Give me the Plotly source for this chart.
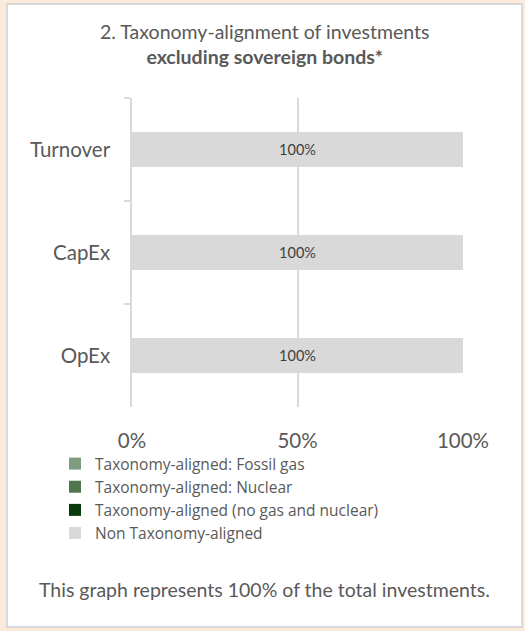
import plotly.graph_objects as go

categories = ["Turnover", "CapEx", "OpEx"]
series_names = [
    "Taxonomy-aligned: Fossil gas",
    "Taxonomy-aligned: Nuclear",
    "Taxonomy-aligned (no gas and nuclear)",
    "Non Taxonomy-aligned",
]
fossil_gas = [0, 0, 0]
nuclear = [0, 0, 0]
aligned_other = [0, 0, 0]
non_aligned = [100, 100, 100]
series_values = [fossil_gas, nuclear, aligned_other, non_aligned]
colors = ["#7F9C7E", "#4E774D", "#0A3A0A", "#D9D9D9"]

FONT = "Lato"
TXT = "#595959"

W, H = 525, 631
L, R, T, B = 132, 62, 98, 224
pw, ph = W - L - R, H - T - B

def px_x(p):
    return (p - L) / pw

def px_y(p):
    return (H - B - p) / ph

fig = go.Figure()
for name, vals, col in zip(series_names, series_values, colors):
    fig.add_trace(go.Bar(
        y=categories,
        x=[v / 100 for v in vals],
        orientation="h",
        name=name,
        marker=dict(color=col, line=dict(width=0)),
        text=[f"{v}%" if v > 0 else "" for v in vals],
        textposition="inside",
        insidetextanchor="middle",
        textfont=dict(family=FONT, size=14.5, color="#404040"),
        width=0.34,
    ))

fig.update_layout(
    width=W, height=H,
    barmode="stack",
    paper_bgcolor="#FBE9D9",
    plot_bgcolor="rgba(0,0,0,0)",
    margin=dict(l=L, r=R, t=T, b=B, pad=0, autoexpand=False),
    font=dict(family=FONT, color=TXT),
    showlegend=True,
    legend=dict(
        x=px_x(55), y=px_y(447), xanchor="left", yanchor="top",
        traceorder="normal",
        font=dict(family="Open Sans", size=15.5, color=TXT),
        bgcolor="rgba(0,0,0,0)",
        itemwidth=30,
    ),
    shapes=[dict(
        type="rect", xref="paper", yref="paper", layer="below",
        x0=px_x(7), x1=px_x(522), y0=px_y(627), y1=px_y(4),
        fillcolor="white", line=dict(color="#D9D9D9", width=2),
    )],
    annotations=[
        dict(text="2. Taxonomy-alignment of investments<br><b>excluding sovereign bonds*</b>",
             xref="paper", yref="paper", x=px_x(264), y=px_y(44),
             xanchor="center", yanchor="middle", showarrow=False,
             font=dict(family=FONT, size=19.5, color=TXT), align="center"),
        dict(text="This graph represents 100% of the total investments.",
             xref="paper", yref="paper", x=px_x(264), y=px_y(589),
             xanchor="center", yanchor="middle", showarrow=False,
             font=dict(family=FONT, size=19.5, color=TXT)),
    ],
)
fig.update_xaxes(
    range=[0, 1], tickvals=[0, 0.5, 1], ticktext=["0%", "50%", "100%"],
    showgrid=True, gridcolor="#D9D9D9", gridwidth=1.5,
    zeroline=False, showline=False, ticks="",
    tickfont=dict(family=FONT, size=20.5, color=TXT),
    ticklabelstandoff=19, automargin=False,
)
fig.update_yaxes(
    categoryorder="array", categoryarray=categories, autorange="reversed",
    showline=True, linecolor="#D9D9D9", linewidth=1.5,
    ticks="outside", ticklen=6, tickcolor="#D9D9D9", tickwidth=1.5,
    tickson="boundaries", showgrid=False,
    tickfont=dict(family=FONT, size=20.5, color=TXT),
    ticklabelstandoff=16, automargin=False,
)

fig.write_html(
    "out.html",
    config={"displayModeBar": False},
    post_script="document.body.style.margin='0px';document.body.style.background='#FBE9D9';",
)
